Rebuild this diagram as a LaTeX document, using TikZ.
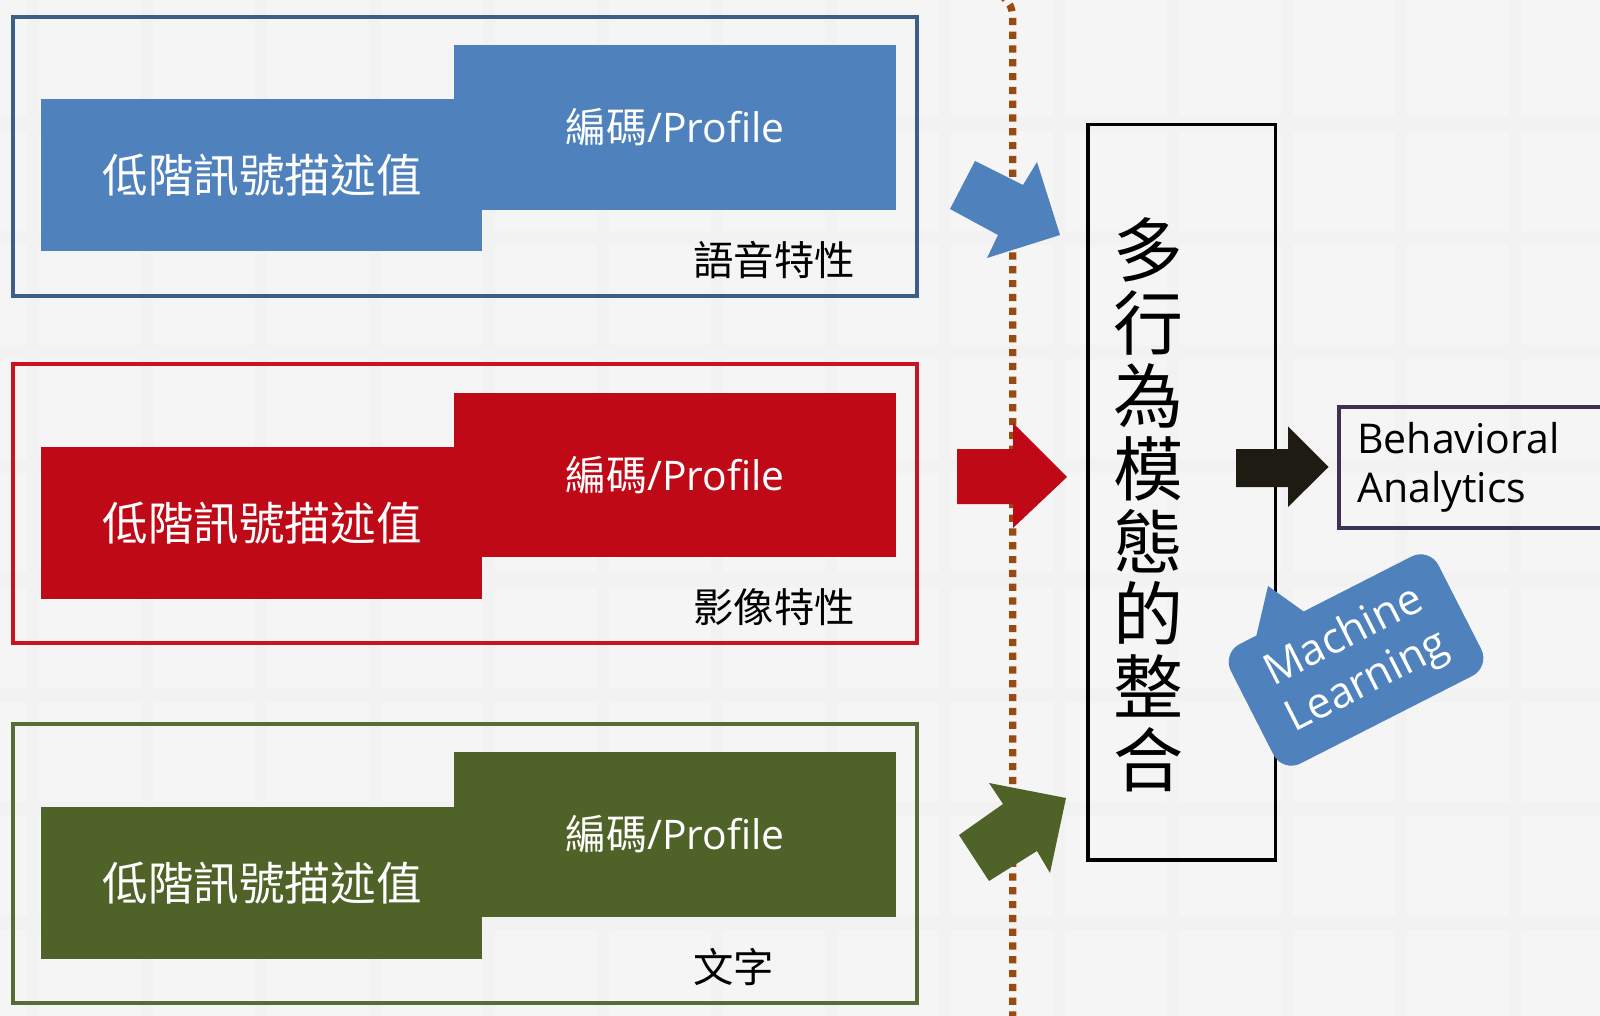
\documentclass[tikz,border=0pt]{standalone}
\usepackage{fontspec}
\setmainfont{Noto Sans CJK TC}
\newfontfamily\cjk{Noto Sans CJK TC}
\newfontfamily\lat{Open Sans}
\definecolor{bgc}{HTML}{F5F5F5}
\definecolor{gridc}{HTML}{F2F2F2}
\definecolor{blueF}{HTML}{4F81BD}
\definecolor{blueB}{HTML}{3C5F8A}
\definecolor{redF}{HTML}{C00916}
\definecolor{redB}{HTML}{C8141E}
\definecolor{greenF}{HTML}{4F6228}
\definecolor{greenB}{HTML}{5A6B35}
\definecolor{dotc}{HTML}{9A4A10}
\definecolor{arrowk}{HTML}{1E1C12}
\definecolor{purpB}{HTML}{3F3151}
\tikzset{
  lowtext/.style={text=white, font=\cjk\fontsize{22.8pt}{26pt}\selectfont, inner sep=0pt},
  proftext/.style={text=white, font=\fontsize{20.4pt}{24pt}\selectfont, inner sep=0pt},
  labeltext/.style={text=black, anchor=west, font=\cjk\fontsize{20.2pt}{23pt}\selectfont, inner sep=0pt},
  outline/.style={line width=2pt},
}
\begin{document}
\begin{tikzpicture}[x=0.5pt,y=-0.5pt]
\path[use as bounding box, fill=bgc] (0,0) rectangle (1600,1016);
\clip (0,0) rectangle (1600,1016);
% faint grid
\foreach \gx in {27,141,255,369,483,597,711,825,939,1053,1167,1281,1395,1509}
  \fill[gridc] (\gx,0) rectangle (\gx+12,1016);
\foreach \gy in {117,231,345,459,573,688,802,916}
  \fill[gridc] (0,\gy) rectangle (1600,\gy+14);

% dotted separator
\draw[dotc, line width=3.6pt, dash pattern=on 3.6pt off 3.3pt]
  (988,-12) .. controls (1008,-2) and (1012.7,4) .. (1012.7,20) -- (1012.7,1030);

% ---------- group 1 (blue) ----------
\draw[outline, blueB] (13.3,17.3) rectangle (917,296);
\fill[blueF] (454,45) rectangle (896,210);
\fill[blueF] (40.8,99) rectangle (481.6,251);
\node[lowtext] (low1) at (262,175) {低階訊號描述值};
\node[proftext] (prof1) at (675,127.5) {{\cjk 編碼}{\lat /Profile}};
\node[labeltext] (lab1) at (693,260) {語音特性};

% ---------- group 2 (red) ----------
\draw[outline, redB] (13.3,364) rectangle (917,643);
\fill[redF] (454,393) rectangle (896,557);
\fill[redF] (40.8,447) rectangle (481.6,599);
\node[lowtext] (low2) at (262,523) {低階訊號描述值};
\node[proftext] (prof2) at (675,475) {{\cjk 編碼}{\lat /Profile}};
\node[labeltext] (lab2) at (693,607) {影像特性};

% ---------- group 3 (green) ----------
\draw[outline, greenB] (13.3,724) rectangle (917,1003);
\fill[greenF] (454,752) rectangle (896,917);
\fill[greenF] (40.8,807) rectangle (481.6,959);
\node[lowtext] (low3) at (262,883) {低階訊號描述值};
\node[proftext] (prof3) at (675,834.5) {{\cjk 編碼}{\lat /Profile}};
\node[labeltext] (lab3) at (693,967) {文字};

% ---------- block arrows ----------
\fill[blueF] (975,161) -- (1023,185) -- (1037,162) -- (1060,235) -- (987,258) -- (998,235) -- (950,209) -- cycle;
\fill[redF] (957,449) -- (1013,449) -- (1013,423) -- (1067,477) -- (1013,528) -- (1013,504) -- (957,504) -- cycle;
\fill[greenF] (959,835) -- (1003,804) -- (989,783) -- (1066,798) -- (1050,873) -- (1037,851) -- (989,881) -- cycle;

% ---------- integration box ----------
\draw[line width=1.75pt, black] (1088,124.5) rectangle (1275.5,860);
\node[align=center, inner sep=0pt, font=\cjk\fontsize{35pt}{36.4pt}\selectfont] (vt) at (1148,505)
  {多\\行\\為\\模\\態\\的\\整\\合};

% ---------- output arrow and box ----------
\fill[arrowk] (1236,449) -- (1288,449) -- (1288,426.5) -- (1328.5,467) -- (1288,507) -- (1288,487) -- (1236,487) -- cycle;
\draw[purpB, line width=2pt] (1339,407) rectangle (1630,527.5);
\node[anchor=west, align=left, inner sep=0pt, font=\lat\fontsize{20.5pt}{24.5pt}\selectfont] (ba) at (1357,467)
  {Behavioral\\Analytics};

% ---------- machine learning callout ----------
\fill[blueF] (1254.9,642) -- (1268,586) -- (1308.3,614.8) -- cycle;
\node[fill=blueF, rounded corners=10pt, minimum width=116.5pt, minimum height=67pt, rotate=27,
      inner sep=0pt, text=white, align=center, font=\lat\fontsize{21.5pt}{25.5pt}\selectfont] (ml) at (1356,660)
  {Machine\\Learning};
\end{tikzpicture}
\end{document}
